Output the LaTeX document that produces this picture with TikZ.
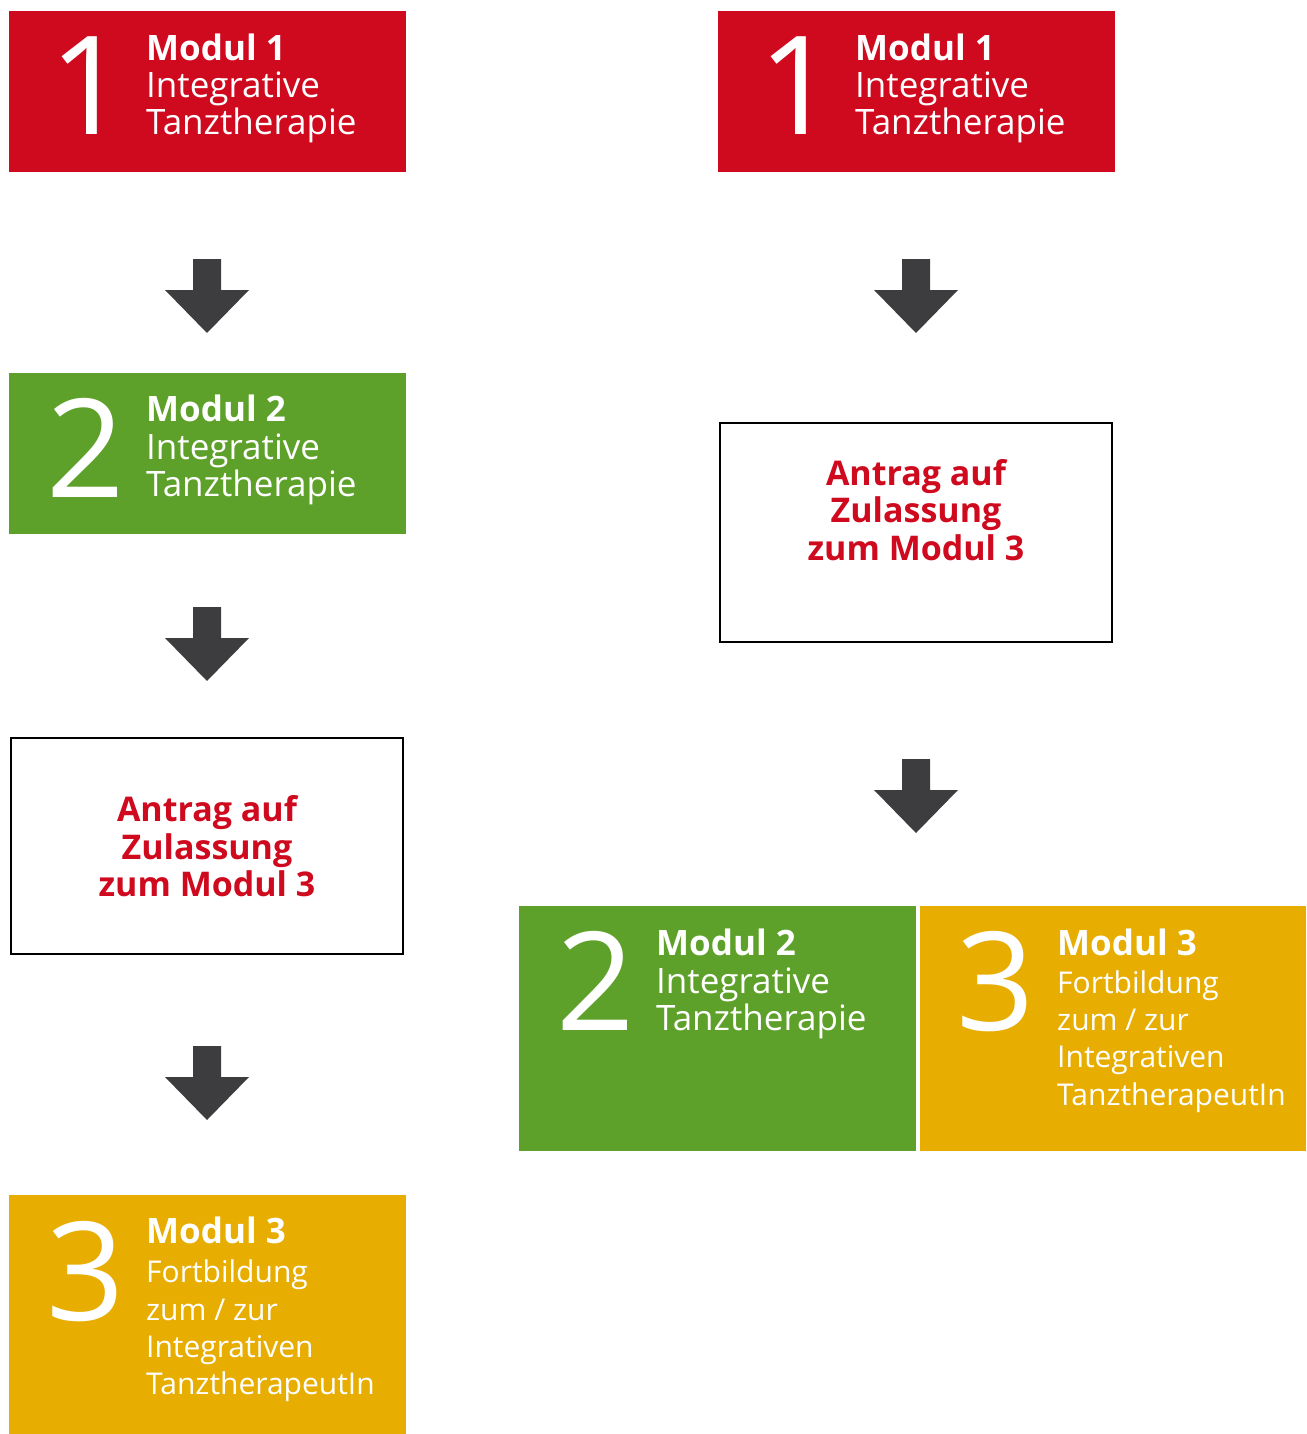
\documentclass[tikz,border=0pt]{standalone}
\usepackage{fontspec}
\setmainfont{Open Sans}
\definecolor{mred}{RGB}{207,9,30}
\definecolor{mgreen}{RGB}{93,161,42}
\definecolor{myellow}{RGB}{231,173,0}
\definecolor{agray}{RGB}{61,61,63}
\begin{document}
\begin{tikzpicture}[x=1pt,y=-1pt,
  box/.style={anchor=north west, inner sep=0, outer sep=0, draw=none},
  frame/.style={anchor=north west, inner sep=0, outer sep=0, draw=black, line width=2pt, fill=white},
  digit/.style={anchor=base, inner sep=0, text=white, font=\fontsize{137}{137}\selectfont},
  txt/.style={anchor=base west, inner sep=0, text=white, text height=26pt, text depth=8pt, font=\fontsize{35}{40}\selectfont},
  txtb/.style={txt, font=\fontsize{35}{40}\selectfont\bfseries},
  txts/.style={txt, text height=23pt, text depth=7pt, font=\fontsize{30}{36}\selectfont},
  atxt/.style={anchor=base, inner sep=0, text=mred, text height=25pt, text depth=8pt, font=\fontsize{34}{40}\selectfont\bfseries},
  blockarrow/.style={fill=agray, draw=none}
]
\useasboundingbox (0,0) rectangle (1306,1434);

% ---------- left column ----------
\node[box, fill=mred, minimum width=397, minimum height=161] (L1) at (9,11) {};
\node[digit] (L1d) at (89,135) {1};
\node[txtb] (L1a) at (146,61) {Modul 1};
\node[txt] (L1b) at (146,98) {Integrative};
\node[txt] (L1c) at (146,135) {Tanztherapie};

\node[box, fill=mgreen, minimum width=397, minimum height=161] (L2) at (9,373) {};
\node[digit] (L2d) at (86,497) {2};
\node[txtb] (L2a) at (146,421) {Modul 2};
\node[txt] (L2b) at (146,459) {Integrative};
\node[txt] (L2c) at (146,496) {Tanztherapie};

\node[frame, minimum width=392, minimum height=216] (LA) at (11,738) {};
\node[atxt] (LAa) at (207,821) {Antrag auf};
\node[atxt] (LAb) at (207,859) {Zulassung};
\node[atxt] (LAc) at (207,896) {zum Modul 3};

\node[box, fill=myellow, minimum width=397, minimum height=239] (L3) at (9,1195) {};
\node[digit] (L3d) at (86,1320) {3};
\node[txtb] (L3a) at (146,1243) {Modul 3};
\node[txts] (L3b) at (146,1282) {Fortbildung};
\node[txts] (L3c) at (146,1320) {zum / zur};
\node[txts] (L3d2) at (146,1357) {Integrativen};
\node[txts] (L3e) at (146,1394) {TanztherapeutIn};

% ---------- right column ----------
\node[box, fill=mred, minimum width=397, minimum height=161] (R1) at (718,11) {};
\node[digit] (R1d) at (798,135) {1};
\node[txtb] (R1a) at (855,61) {Modul 1};
\node[txt] (R1b) at (855,98) {Integrative};
\node[txt] (R1c) at (855,135) {Tanztherapie};

\node[frame, minimum width=392, minimum height=219] (RA) at (720,423) {};
\node[atxt] (RAa) at (916,485) {Antrag auf};
\node[atxt] (RAb) at (916,522) {Zulassung};
\node[atxt] (RAc) at (916,560) {zum Modul 3};

\node[box, fill=mgreen, minimum width=397, minimum height=245] (R2) at (519,906) {};
\node[digit] (R2d) at (596,1030) {2};
\node[txtb] (R2a) at (656,955) {Modul 2};
\node[txt] (R2b) at (656,993) {Integrative};
\node[txt] (R2c) at (656,1030) {Tanztherapie};

\node[box, fill=myellow, minimum width=386, minimum height=245] (R3) at (920,906) {};
\node[digit] (R3d) at (996,1030) {3};
\node[txtb] (R3a) at (1057,955) {Modul 3};
\node[txts] (R3b) at (1057,993) {Fortbildung};
\node[txts] (R3c) at (1057,1030) {zum / zur};
\node[txts] (R3d2) at (1057,1067) {Integrativen};
\node[txts] (R3e) at (1057,1105) {TanztherapeutIn};

% ---------- block arrows ----------
\foreach \n/\x/\y in {a1/207/259, a2/207/607, a3/207/1046, a4/916/259, a5/916/759} {
  \coordinate (\n) at (\x,\y);
  \fill[blockarrow] (\n) ++(-14,0) -- ++(28,0) -- ++(0,31) -- ++(28,0)
     -- ++(-42,43) -- ++(-42,-43) -- ++(28,0) -- cycle;
}
\end{tikzpicture}
\end{document}
